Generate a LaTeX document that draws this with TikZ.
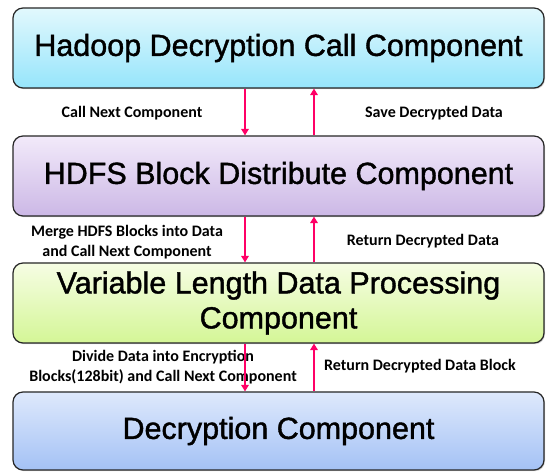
\documentclass[tikz,border=0pt]{standalone}
\usepackage{fontspec}
\setmainfont{Liberation Sans}
\newfontfamily\titlefont{Liberation Sans}[FakeBold=1.3]
\newfontfamily\labfont{Carlito}
\usetikzlibrary{arrows.meta,shadows}
\definecolor{arrowc}{RGB}{255,0,102}
\definecolor{c1t}{RGB}{226,248,253}
\definecolor{c1b}{RGB}{150,229,251}
\definecolor{c2t}{RGB}{242,234,250}
\definecolor{c2b}{RGB}{204,184,230}
\definecolor{c3t}{RGB}{246,253,228}
\definecolor{c3b}{RGB}{212,246,150}
\definecolor{c4t}{RGB}{222,233,252}
\definecolor{c4b}{RGB}{164,194,245}
\begin{document}
\begin{tikzpicture}[x=1pt,y=-1pt,
  comp/.style={draw=black!85, line width=1.2pt, rounded corners=10pt,
    minimum width=531pt, minimum height=80pt, inner sep=0pt, align=center,
    font=\titlefont\fontsize{30.5}{35}\selectfont,
    drop shadow={opacity=0.35, shadow xshift=1pt, shadow yshift=-1.2pt}},
  lab/.style={font=\labfont\bfseries\fontsize{16}{20.5}\selectfont, align=center, inner sep=0pt},
  arr/.style={draw=arrowc, line width=2.2pt, -{Triangle[width=7.5pt,length=6.5pt]}}]
\useasboundingbox (0,0) rectangle (547,473);
\node[comp, top color=c1t, bottom color=c1b] (b1) at (278.5,48) {Hadoop Decryption Call Component};
\node[comp, top color=c2t, bottom color=c2b] (b2) at (278.5,176) {HDFS Block Distribute Component};
\node[comp, top color=c3t, bottom color=c3b] (b3) at (278.5,303) {Variable Length Data Processing\\Component};
\node[comp, top color=c4t, bottom color=c4b, minimum height=78pt] (b4) at (278.5,431) {Decryption Component};
\node[lab] (l1) at (132,113) {Call Next Component};
\node[lab] (l2) at (434,113) {Save Decrypted Data};
\node[lab] (l3) at (127,242) {Merge HDFS Blocks into Data\\and Call Next Component};
\node[lab] (l4) at (423,241) {Return Decrypted Data};
\node[lab] (l5) at (163,367) {Divide Data into Encryption\\Blocks(128bit) and Call Next Component};
\node[lab] (l6) at (420,366) {Return Decrypted Data Block};
\coordinate (dn) at (245,0);
\coordinate (up) at (314,0);
\draw[arr] (b1.south -| dn) -- (b2.north -| dn);
\draw[arr] (b2.north -| up) -- (b1.south -| up);
\draw[arr] (b2.south -| dn) -- (b3.north -| dn);
\draw[arr] (b3.north -| up) -- (b2.south -| up);
\draw[arr] (b3.south -| dn) -- (b4.north -| dn);
\draw[arr] (b4.north -| up) -- (b3.south -| up);
\end{tikzpicture}
\end{document}
